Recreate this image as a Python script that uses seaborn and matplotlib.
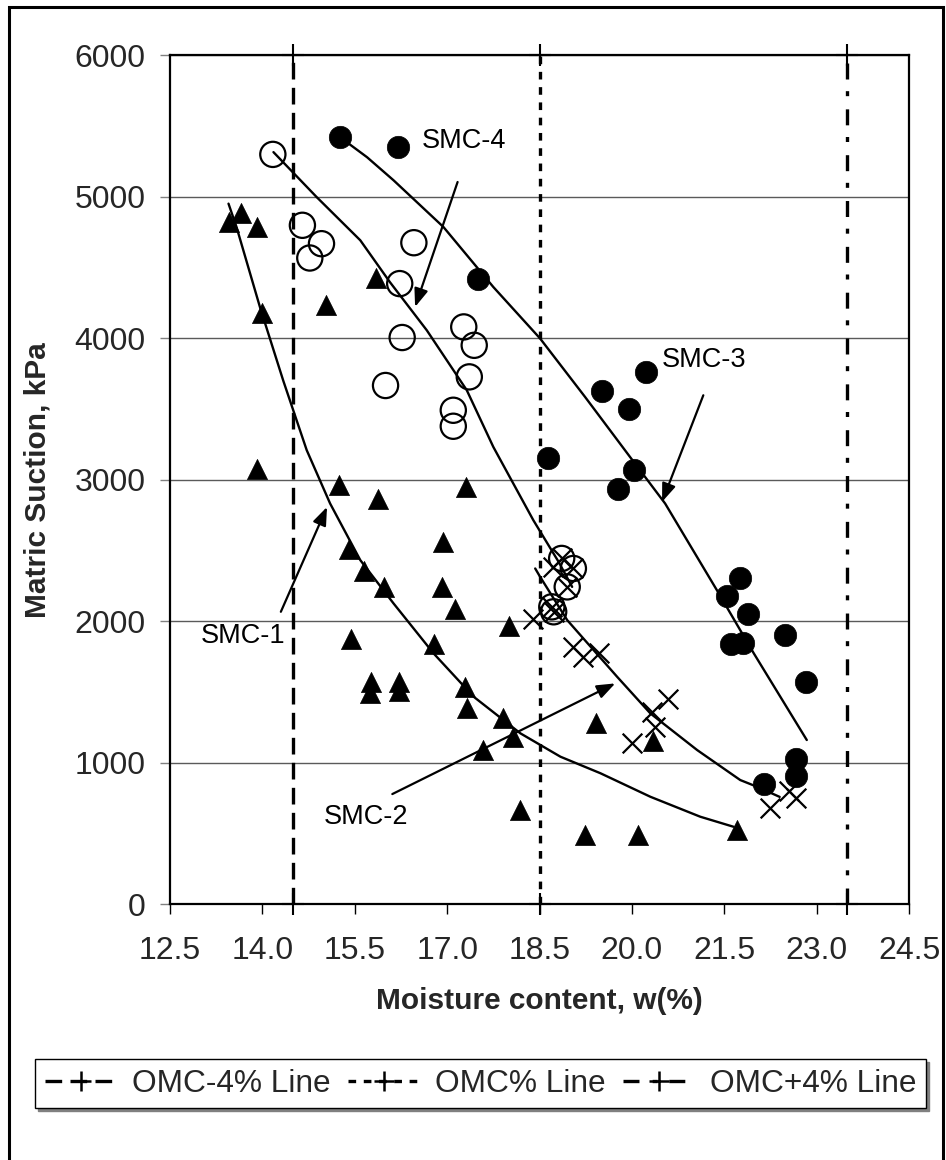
import matplotlib
matplotlib.use("Agg")
import matplotlib.pyplot as plt
import seaborn as sns
from matplotlib.lines import Line2D
from matplotlib.patches import Rectangle

# ---- measured points: moisture content (%) and matric suction (kPa) ----
# SMC-1 (filled triangles)
smc1_w = [13.45, 13.65, 13.91, 13.99, 13.92, 15.03, 15.85, 15.25, 15.88, 17.30,
          16.94, 15.41, 15.65, 15.98, 16.91, 17.13, 18.01, 15.44, 16.78, 15.77,
          15.74, 16.22, 16.22, 17.29, 17.33, 17.91, 18.07, 17.59, 18.18, 19.42,
          20.34, 19.24, 20.10, 21.70]
smc1_s = [4822, 4886, 4787, 4180, 3080, 4234, 4427, 2963, 2864, 2951,
          2558, 2511, 2357, 2240, 2240, 2085, 1969, 1875, 1840, 1569,
          1491, 1569, 1510, 1534, 1386, 1315, 1181, 1091, 667, 1284,
          1157, 491, 491, 526]

# SMC-2 (crosses)
smc2_w = [18.40, 18.72, 18.86, 19.05, 18.95, 18.73, 18.70, 19.05, 19.21, 19.46,
          20.00, 20.33, 20.37, 20.59, 22.25, 22.55, 22.66]
smc2_s = [2014, 2386, 2445, 2374, 2244, 2068, 2103, 1821, 1746, 1774,
          1138, 1362, 1256, 1451, 680, 805, 755]

# SMC-3 (filled circles)
smc3_w = [15.26, 16.20, 17.50, 18.63, 19.52, 19.95, 20.23, 19.78, 20.04, 21.76,
          21.54, 21.88, 21.61, 21.81, 22.49, 22.83, 22.66, 22.66, 22.15]
smc3_s = [5422, 5352, 4422, 3156, 3629, 3504, 3763, 2939, 3068, 2304,
          2181, 2052, 1840, 1845, 1903, 1569, 1030, 905, 850]

# SMC-4 (open circles)
smc4_w = [14.17, 14.65, 14.96, 14.77, 16.46, 16.23, 16.27, 17.27, 17.44, 17.36,
          16.00, 17.10, 17.10, 18.86, 19.05, 18.95, 18.73, 18.70]
smc4_s = [5300, 4799, 4669, 4568, 4676, 4387, 4006, 4081, 3951, 3728,
          3667, 3492, 3379, 2445, 2374, 2244, 2068, 2103]

# ---- trend curves ----
smc1_curve_w = [13.45, 13.58, 13.96, 14.34, 14.72, 15.10, 15.59, 16.13, 16.78,
                17.43, 18.19, 18.84, 19.49, 20.30, 21.11, 21.65]
smc1_curve_s = [4952, 4787, 4222, 3700, 3210, 2833, 2433, 2127, 1774,
                1468, 1209, 1044, 927, 761, 620, 549]

smc2_curve_w = [18.43, 18.51, 18.95, 19.76, 20.30, 21.06, 21.76, 22.03, 22.40]
smc2_curve_s = [2374, 2315, 2009, 1609, 1350, 1091, 879, 832, 760]

smc3_curve_w = [15.26, 15.70, 16.13, 16.94, 17.75, 18.51, 19.24, 19.97, 20.54,
                21.38, 21.98, 22.84]
smc3_curve_s = [5422, 5280, 5117, 4787, 4363, 3999, 3586, 3162, 2833,
                2221, 1774, 1162]

smc4_curve_w = [14.18, 14.88, 15.59, 16.07, 16.67, 17.32, 17.75, 18.40, 18.81, 19.03]
smc4_curve_s = [5316, 4999, 4693, 4398, 4057, 3633, 3233, 2715, 2421, 2244]

# ---- reference moisture lines ----
omc_w = [14.5, 18.5, 23.5]
omc_labels = ["OMC-4% Line", "OMC% Line", "OMC+4% Line"]
omc_span = [0, 6000]

# ---- curve labels: text position, arrow tail, arrow head ----
curve_names = ["SMC-1", "SMC-2", "SMC-3", "SMC-4"]
name_pos = [(13.69, 1900), (15.69, 620), (21.18, 3845), (17.27, 5395)]
arrow_tail = [(14.30, 2068), (16.11, 780), (21.16, 3598), (17.17, 5105)]
arrow_head = [(15.05, 2809), (19.73, 1562), (20.49, 2845), (16.48, 4222)]

x_ticks = [12.5, 14.0, 15.5, 17.0, 18.5, 20.0, 21.5, 23.0, 24.5]
y_ticks = [0, 1000, 2000, 3000, 4000, 5000, 6000]

sns.set_theme(style="white")
plt.rcParams["font.family"] = ["Liberation Sans", "DejaVu Sans"]
plt.rcParams["lines.scale_dashes"] = False

fig = plt.figure(figsize=(9.46, 11.6), dpi=100)
ax = fig.add_axes([0.1797, 0.2203, 0.7812, 0.7320])

# horizontal grid
for yv in y_ticks[1:]:
    ax.axhline(yv, color="#5a5a5a", lw=1.0, zorder=0)

# trend curves
for cw, cs in [(smc1_curve_w, smc1_curve_s), (smc2_curve_w, smc2_curve_s),
               (smc3_curve_w, smc3_curve_s), (smc4_curve_w, smc4_curve_s)]:
    sns.lineplot(x=cw, y=cs, sort=False, estimator=None, color="black",
                 lw=1.7, ax=ax, zorder=3)

# data points
sns.scatterplot(x=smc1_w, y=smc1_s, marker="^", s=210, color="black",
                edgecolor="black", linewidth=0.5, ax=ax, zorder=4)
sns.scatterplot(x=smc3_w, y=smc3_s, marker="o", s=260, color="black",
                edgecolor="black", linewidth=0.5, ax=ax, zorder=4)
sns.scatterplot(x=smc4_w, y=smc4_s, marker="o", s=330, color="none",
                edgecolor="black", linewidth=1.6, ax=ax, zorder=4)
sns.scatterplot(x=smc2_w, y=smc2_s, marker="x", s=200, color="black",
                linewidth=1.6, ax=ax, zorder=5)

# reference moisture lines
omc_styles = [(0, (12, 6)), (0, (5.5, 5.5)), (0, (11.5, 9.5, 3.6, 8.4))]
for xv, ls in zip(omc_w, omc_styles):
    ax.plot([xv, xv], omc_span, color="black", lw=2.4, linestyle=ls,
            marker="+", markersize=16, markeredgewidth=1.5, clip_on=False,
            zorder=2)

# curve labels with arrows
for name, tp, tail, head in zip(curve_names, name_pos, arrow_tail, arrow_head):
    ax.text(tp[0], tp[1], name, fontsize=19.5, ha="center", va="center",
            color="black", zorder=6)
    ax.annotate("", xy=head, xytext=tail,
                arrowprops=dict(arrowstyle="-|>,head_length=1.0,head_width=0.38",
                                mutation_scale=11, color="black", lw=1.6,
                                shrinkA=0, shrinkB=0), zorder=6)

ax.set_xlim(12.5, 24.5)
ax.set_ylim(0, 6000)
ax.set_xticks(x_ticks)
ax.set_xticklabels([f"{v:.1f}" for v in x_ticks])
ax.set_yticks(y_ticks)
ax.set_yticklabels([str(v) for v in y_ticks])
ax.tick_params(axis="x", direction="out", length=7, width=1, color="black",
               pad=16, labelsize=23, bottom=True)
ax.tick_params(axis="y", direction="out", length=7.5, width=1, color="#808080",
               pad=10, labelsize=23, left=True)
for sp in ax.spines.values():
    sp.set_visible(True)
    sp.set_color("black")
    sp.set_linewidth(1.6)
ax.set_facecolor("white")

ax.set_xlabel("Moisture content, w(%)", fontsize=21.5, fontweight="bold")
ax.set_ylabel("Matric Suction, kPa", fontsize=21.5, fontweight="bold")
ax.xaxis.set_label_coords(0.5, -0.097)
ax.yaxis.set_label_coords(-0.16, 0.5)

# legend for the reference lines
handles = [Line2D([0], [0], color="black", lw=2.4, linestyle=ls, marker="+",
                  markersize=14, markeredgewidth=1.8)
           for ls in omc_styles]
leg = fig.legend(handles, omc_labels, loc="center", bbox_to_anchor=(0.508, 0.0658),
                 ncol=3, fontsize=22.8, frameon=True, fancybox=False,
                 edgecolor="black", framealpha=1, handlelength=2.3,
                 handletextpad=0.45, columnspacing=0.55, borderpad=0.3,
                 borderaxespad=0.2,
                 shadow={"color": "#808080", "alpha": 1})
leg.get_frame().set_linewidth(1.0)

# outer chart frame
fig.add_artist(Rectangle((0.0098, -0.02), 0.9866, 1.0137, transform=fig.transFigure,
                         fill=False, edgecolor="black", lw=2.2))

fig.savefig("out.png", dpi=100, facecolor="white")
